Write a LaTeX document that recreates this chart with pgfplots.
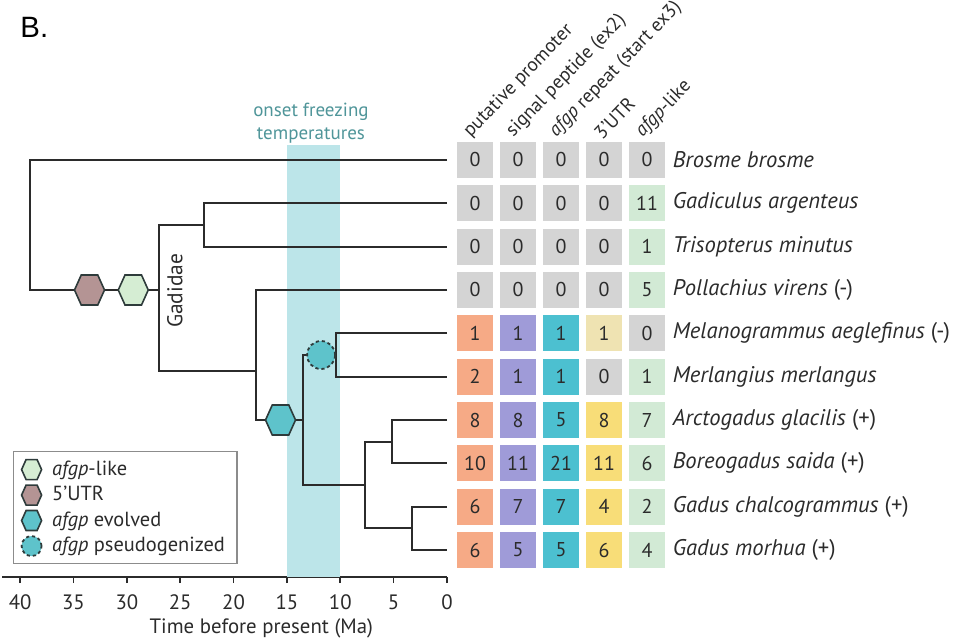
\documentclass[border=0pt]{standalone}
\usepackage{pgfplots}
\pgfplotsset{compat=1.18}
\usepackage{fontspec}
\setmainfont{PT Sans}
\setsansfont{PT Sans}
\newfontfamily\panelfont{Liberation Sans}

\definecolor{band}{HTML}{BCE5E9}
\definecolor{onset}{HTML}{4F9599}
\definecolor{hexbrown}{HTML}{B49494}
\definecolor{hexgreen}{HTML}{D5EDD3}
\definecolor{hexcyan}{HTML}{5EC3CB}
\definecolor{edge}{HTML}{2E3B3B}
\definecolor{cgray}{HTML}{D4D4D4}
\definecolor{corange}{HTML}{F6AA86}
\definecolor{cpurple}{HTML}{9F9BD8}
\definecolor{ccyan}{HTML}{4CC0D0}
\definecolor{cyellow}{HTML}{F8DD78}
\definecolor{cpale}{HTML}{EFE3B2}
\definecolor{cgreen}{HTML}{D2EAD5}
\definecolor{ink}{HTML}{2B2B2B}

% hexagon with pointed left and right corners
\pgfdeclareplotmark{hexa}{%
  \pgfpathmoveto{\pgfqpoint{\pgfplotmarksize}{0pt}}%
  \pgfpathlineto{\pgfqpoint{0.55\pgfplotmarksize}{\pgfplotmarksize}}%
  \pgfpathlineto{\pgfqpoint{-0.55\pgfplotmarksize}{\pgfplotmarksize}}%
  \pgfpathlineto{\pgfqpoint{-\pgfplotmarksize}{0pt}}%
  \pgfpathlineto{\pgfqpoint{-0.55\pgfplotmarksize}{-\pgfplotmarksize}}%
  \pgfpathlineto{\pgfqpoint{0.55\pgfplotmarksize}{-\pgfplotmarksize}}%
  \pgfpathclose
  \pgfusepathqfillstroke}

\pgfplotsset{
  branch/.style={forget plot, ink, line width=1pt, line join=miter},
  cell/.style={only marks, mark=square*, mark size=8.75pt,
    mark options={fill=#1, draw=#1, line width=0pt},
    point meta=explicit, nodes near coords,
    every node near coord/.append style={anchor=center, text=ink,
      font=\fontsize{10}{11}\selectfont}},
}

\begin{document}
\begin{tikzpicture}
\path[use as bounding box] (0,0) rectangle (480.5pt,-321pt);

\node[anchor=base west, inner sep=0pt, font=\panelfont\fontsize{14.7}{16}\selectfont] at (10pt,-19pt) {B.};

% ---- phylogeny on a time axis ----
\begin{axis}[
  at={(1pt,-288.5pt)}, anchor=south west,
  scale only axis, width=222.5pt, height=216pt,
  xmin=0, xmax=41.7, x dir=reverse,
  ymin=-9.623, ymax=0.346,
  axis x line=bottom, axis y line=none,
  x axis line style={-, line width=0.8pt, ink},
  xtick={0,5,...,40},
  xtick align=outside, major tick length=3pt,
  tick style={line width=0.8pt, ink},
  xticklabel style={font=\fontsize{10.4}{11}\selectfont, text=ink, yshift=-2.5pt},
  /pgf/number format/assume math mode=true,
  clip=false,
  legend style={at={(axis cs:40.67,-6.72)}, anchor=north west,
    draw=black!45, line width=0.6pt, font=\fontsize{10.2}{11}\selectfont,
    text=ink, row sep=0pt, inner xsep=4pt, inner ysep=2.5pt},
  legend cell align=left,
  legend image code/.code={\draw[#1, mark size=5pt] plot coordinates {(0.2cm,0cm)};
    \path (0.2cm+8pt,0pt);},
]
% freezing-onset window
\addplot[forget plot, fill=band, draw=none] coordinates {(15,0.346) (10,0.346) (10,-9.623) (15,-9.623)} -- cycle;

% tree branches (x = Ma, y = -row)
\addplot[branch] coordinates {(0,0) (39.1,0) (39.1,-3) (27.0,-3)};
\addplot[branch] coordinates {(22.8,-1.5) (27.0,-1.5) (27.0,-4.87) (17.9,-4.87)};
\addplot[branch] coordinates {(0,-1) (22.8,-1) (22.8,-2) (0,-2)};
\addplot[branch] coordinates {(0,-3) (17.9,-3) (17.9,-6) (13.5,-6)};
\addplot[branch] coordinates {(10.4,-4.5) (13.5,-4.5) (13.5,-7.5) (7.7,-7.5)};
\addplot[branch] coordinates {(0,-4) (10.4,-4) (10.4,-5) (0,-5)};
\addplot[branch] coordinates {(5.2,-6.5) (7.7,-6.5) (7.7,-8.5) (3.3,-8.5)};
\addplot[branch] coordinates {(0,-6) (5.2,-6) (5.2,-7) (0,-7)};
\addplot[branch] coordinates {(0,-8) (3.3,-8) (3.3,-9) (0,-9)};

% events on branches
\addplot[only marks, mark=hexa, mark size=7.5pt, mark options={fill=hexgreen, draw=edge, line width=0.8pt}] coordinates {(29.4,-3)};
\addlegendentry{\textit{afgp}-like}
\addplot[only marks, mark=hexa, mark size=7.5pt, mark options={fill=hexbrown, draw=edge, line width=0.8pt}] coordinates {(33.5,-3)};
\addlegendentry{5'UTR}
\addplot[only marks, mark=hexa, mark size=7.5pt, mark options={fill=hexcyan, draw=edge, line width=0.8pt}] coordinates {(15.6,-6)};
\addlegendentry{\textit{afgp} evolved}
\addplot[only marks, mark=*, mark size=7pt, mark options={fill=hexcyan, draw=edge, line width=0.9pt, dash pattern=on 1.6pt off 1.4pt}] coordinates {(11.8,-4.5)};
\addlegendentry{\textit{afgp} pseudogenized\hspace{6pt}}

\node[align=center, text=onset, font=\fontsize{9.5}{11.5}\selectfont] at (axis cs:12.75,0.85) {onset freezing\\temperatures};
\node[rotate=90, text=ink, font=\fontsize{10.7}{11}\selectfont] at (axis cs:25.5,-3.02) {Gadidae};
\node[anchor=center, text=ink, font=\fontsize{10.4}{11}\selectfont] at (axis cs:17.4,-10.80) {Time before present (Ma)};
\end{axis}

% ---- gene-copy counts per species ----
\begin{axis}[
  at={(226.75pt,-288.5pt)}, anchor=south west,
  scale only axis, width=107.5pt, height=216pt,
  xmin=-0.5, xmax=4.5, ymin=-9.623, ymax=0.346,
  axis line style={draw=none}, major tick length=0pt,
  /pgf/number format/assume math mode=true,
  xtick={0,...,4}, xticklabel pos=upper,
  xticklabels={putative promoter, signal peptide (ex2), \textit{afgp} repeat (start ex3), 3'UTR, \textit{afgp}-like},
  xticklabel style={xshift=-0.75pt, yshift=2pt, rotate=46, anchor=south west, inner sep=0pt,
    font=\fontsize{9.6}{10}\selectfont, text=ink},
  ytick={-9,...,0}, yticklabel pos=right,
  yticklabels={\textit{Gadus morhua} (+), \textit{Gadus chalcogrammus} (+), \textit{Boreogadus saida} (+), \textit{Arctogadus glacilis} (+), \textit{Merlangius merlangus}, \textit{Melanogrammus aeglefinus} (-), \textit{Pollachius virens} (-), \textit{Trisopterus minutus}, \textit{Gadiculus argenteus}, \textit{Brosme brosme}},
  yticklabel style={anchor=west, inner sep=0pt, xshift=2pt,
    font=\fontsize{11.3}{12}\selectfont, text=ink},
  clip=false,
]
\addplot[cell=cgray] coordinates {
  (0,0) [0] (1,0) [0] (2,0) [0] (3,0) [0] (4,0) [0]
  (0,-1) [0] (1,-1) [0] (2,-1) [0] (3,-1) [0]
  (0,-2) [0] (1,-2) [0] (2,-2) [0] (3,-2) [0]
  (0,-3) [0] (1,-3) [0] (2,-3) [0] (3,-3) [0]
  (4,-4) [0] (3,-5) [0]};
\addplot[cell=cgreen] coordinates {
  (4,-1) [11] (4,-2) [1] (4,-3) [5] (4,-5) [1]
  (4,-6) [7] (4,-7) [6] (4,-8) [2] (4,-9) [4]};
\addplot[cell=corange] coordinates {
  (0,-4) [1] (0,-5) [2] (0,-6) [8] (0,-7) [10] (0,-8) [6] (0,-9) [6]};
\addplot[cell=cpurple] coordinates {
  (1,-4) [1] (1,-5) [1] (1,-6) [8] (1,-7) [11] (1,-8) [7] (1,-9) [5]};
\addplot[cell=ccyan] coordinates {
  (2,-4) [1] (2,-5) [1] (2,-6) [5] (2,-7) [21] (2,-8) [7] (2,-9) [5]};
\addplot[cell=cpale] coordinates {(3,-4) [1]};
\addplot[cell=cyellow] coordinates {
  (3,-6) [8] (3,-7) [11] (3,-8) [4] (3,-9) [6]};
\end{axis}
\end{tikzpicture}
\end{document}
